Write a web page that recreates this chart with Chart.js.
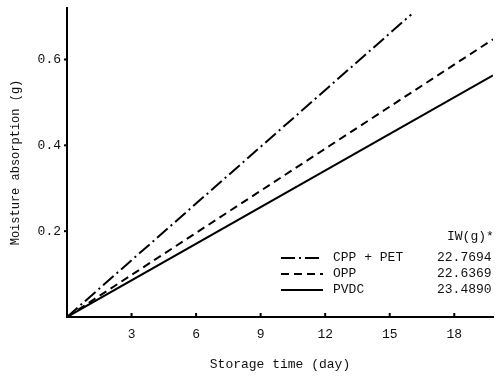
<!DOCTYPE html>
<html>
<head>
<meta charset="utf-8">
<script src="https://cdn.jsdelivr.net/npm/chart.js@4.4.1/dist/chart.umd.min.js"></script>
<style>
  html, body { margin: 0; padding: 0; background: #fff; }
  #wrap { width: 503px; height: 376px; }
</style>
</head>
<body>
<div id="wrap"><canvas id="myChart" width="503" height="376"></canvas></div>
<script>
// data
const seriesNames = ["CPP + PET", "OPP", "PVDC"];
const iwValues = ["22.7694", "22.6369", "23.4890"];
const cppPetDays = [0, 16.0];
const cppPetMoisture = [0, 0.705];
const oppDays = [0, 19.8];
const oppMoisture = [0, 0.647];
const pvdcDays = [0, 19.8];
const pvdcMoisture = [0, 0.563];
const xTicks = [3, 6, 9, 12, 15, 18];
const yTicks = [0.2, 0.4, 0.6];

const dashes = [[14, 4, 2, 4], [8, 5], []];
const font = "'Liberation Mono', 'DejaVu Sans Mono', monospace";

function toPoints(xs, ys) {
  return xs.map((x, i) => ({ x: x, y: ys[i] }));
}

const data = {
  datasets: [
    { label: seriesNames[0], data: toPoints(cppPetDays, cppPetMoisture), borderDash: dashes[0] },
    { label: seriesNames[1], data: toPoints(oppDays, oppMoisture), borderDash: dashes[1] },
    { label: seriesNames[2], data: toPoints(pvdcDays, pvdcMoisture), borderDash: dashes[2] },
  ].map(d => Object.assign(d, {
    showLine: true,
    borderColor: "#000",
    borderWidth: 2,
    pointRadius: 0,
    fill: false,
  })),
};

// inward tick marks + the IW(g) key
const extras = {
  id: "extras",
  afterDraw(chart) {
    const ctx = chart.ctx;
    const xs = chart.scales.x;
    const ys = chart.scales.y;
    ctx.save();
    ctx.strokeStyle = "#000";
    ctx.lineWidth = 2;
    xTicks.forEach(v => {
      const px = xs.getPixelForValue(v);
      ctx.beginPath();
      ctx.moveTo(px, ys.bottom);
      ctx.lineTo(px, ys.bottom - 4);
      ctx.stroke();
    });
    yTicks.forEach(v => {
      const py = ys.getPixelForValue(v);
      ctx.beginPath();
      ctx.moveTo(xs.left, py);
      ctx.lineTo(xs.left - 3, py);
      ctx.stroke();
    });

    // key
    const rowY = [258, 274, 290];
    ctx.fillStyle = "#111";
    ctx.font = "13px " + font;
    ctx.textBaseline = "middle";
    ctx.textAlign = "left";
    ctx.fillText("IW(g)*", 447, 237);
    chart.data.datasets.forEach((ds, i) => {
      ctx.setLineDash(ds.borderDash);
      ctx.beginPath();
      ctx.moveTo(281, rowY[i]);
      ctx.lineTo(323, rowY[i]);
      ctx.stroke();
      ctx.setLineDash([]);
      ctx.fillText(ds.label, 333, rowY[i]);
      ctx.fillText(iwValues[i], 437, rowY[i]);
    });
    ctx.restore();
  },
};

const config = {
  type: "scatter",
  data,
  options: {
    responsive: false,
    animation: false,
    layout: { padding: { left: 0, top: 8, right: 10, bottom: 0 } },
    plugins: { legend: { display: false }, tooltip: { enabled: false } },
    scales: {
      x: {
        type: "linear",
        min: 0,
        max: 19.8,
        afterBuildTicks: s => { s.ticks = xTicks.map(v => ({ value: v })); },
        afterFit: s => { s.height = 59; },
        grid: { display: false, drawTicks: false },
        border: { display: true, color: "#000", width: 2 },
        ticks: { color: "#111", font: { family: font, size: 13 }, padding: 10, maxRotation: 0 },
        title: { display: true, text: "Storage time (day)", color: "#111", font: { family: font, size: 13 }, padding: { top: 6 } },
      },
      y: {
        type: "linear",
        min: 0,
        max: 0.72,
        afterBuildTicks: s => { s.ticks = yTicks.map(v => ({ value: v })); },
        afterFit: s => { s.width = 67; s.paddingTop = 0; s.paddingBottom = 0; },
        grid: { display: false, drawTicks: false },
        border: { display: true, color: "#000", width: 2 },
        ticks: { color: "#111", font: { family: font, size: 13 }, padding: 6, callback: v => v.toFixed(1) },
        title: { display: true, text: "Moisture absorption (g)", color: "#111", font: { family: font, size: 12 }, padding: { top: 9 } },
      },
    },
  },
  plugins: [extras],
};

const myChart = new Chart(document.getElementById("myChart"), config);
</script>
</body>
</html>
